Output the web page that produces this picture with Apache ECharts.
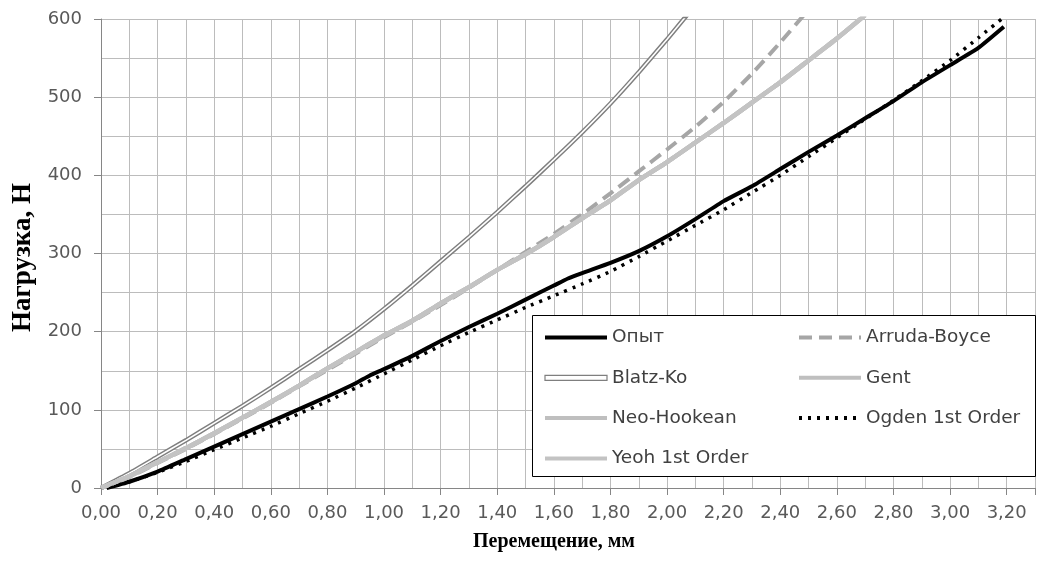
<!DOCTYPE html>
<html>
<head>
<meta charset="utf-8">
<script src="https://cdn.jsdelivr.net/npm/echarts@6/dist/echarts.min.js"></script>
<style>html,body{margin:0;padding:0;background:#fff}#c{width:1038px;height:572px}</style>
</head>
<body>
<div id="c"></div>
<script>
// ---- data (displacement mm, load N) ----
const opyt = [[0.02,0],[0.1,8],[0.2,21],[0.3,37],[0.4,53],[0.5,69],[0.6,85],[0.7,101],[0.8,117],[0.9,134],[0.95,144],[1.0,152],[1.1,169],[1.2,188],[1.3,206],[1.4,223],[1.5,241],[1.6,259],[1.65,268],[1.7,275],[1.8,288],[1.9,303],[2.0,322],[2.1,344],[2.2,367],[2.3,386],[2.4,408],[2.5,430],[2.6,451],[2.7,473],[2.8,495],[2.9,519],[3.0,541],[3.1,563],[3.19,590]];
const arruda = [[0,0],[0.1,14],[0.2,32],[0.3,50],[0.4,69],[0.5,89],[0.6,109],[0.7,130],[0.8,151],[0.9,172],[1.0,193],[1.1,213],[1.2,234],[1.3,256],[1.4,279],[1.5,302],[1.6,325],[1.7,350],[1.8,377],[1.9,405],[2.0,433],[2.1,462],[2.2,494],[2.3,530],[2.4,570],[2.5,612]];
const blatz = [[0,0],[0.1,19],[0.2,40],[0.3,61],[0.4,83],[0.5,105],[0.6,128],[0.7,152],[0.8,176],[0.9,201],[1.0,229],[1.1,259],[1.2,290],[1.3,321],[1.4,353],[1.5,386],[1.6,420],[1.7,455],[1.8,492],[1.9,532],[2.0,574],[2.1,618]];
const gent = [[0,0],[0.1,15],[0.2,33],[0.3,51],[0.4,70],[0.5,90],[0.6,110],[0.7,131],[0.8,153],[0.9,174],[1.0,195],[1.1,214],[1.2,236],[1.3,257],[1.4,279],[1.5,299],[1.6,321],[1.7,345],[1.8,368],[1.9,394],[2.0,417],[2.1,442],[2.2,467],[2.3,493],[2.4,519],[2.5,547],[2.6,575],[2.7,605]];
const neoHookean = [[0,0],[0.1,15],[0.2,33],[0.3,51],[0.4,70],[0.5,90],[0.6,110],[0.7,131],[0.8,153],[0.9,174],[1.0,195],[1.1,214],[1.2,236],[1.3,257],[1.4,279],[1.5,299],[1.6,321],[1.7,345],[1.8,368],[1.9,394],[2.0,417],[2.1,442],[2.2,467],[2.3,493],[2.4,519],[2.5,547],[2.6,575],[2.7,605]];
const ogden = [[0,0],[0.1,8],[0.2,20],[0.3,34],[0.4,49],[0.5,64],[0.6,79],[0.7,95],[0.8,111],[0.9,128],[1.0,146],[1.1,164],[1.2,182],[1.3,199],[1.4,215],[1.5,231],[1.6,246],[1.7,261],[1.8,277],[1.9,296],[2.0,316],[2.1,336],[2.2,356],[2.3,378],[2.4,400],[2.5,424],[2.6,448],[2.7,472],[2.8,496],[2.9,521],[3.0,547],[3.1,576],[3.2,605]];
const yeoh = [[0,0],[0.1,15],[0.2,33],[0.3,51],[0.4,70],[0.5,90],[0.6,110],[0.7,131],[0.8,153],[0.9,174],[1.0,195],[1.1,214],[1.2,236],[1.3,257],[1.4,279],[1.5,299],[1.6,321],[1.7,345],[1.8,368],[1.9,394],[2.0,417],[2.1,442],[2.2,467],[2.3,493],[2.4,519],[2.5,547],[2.6,575],[2.7,605]];
const xTitle = 'Перемещение, мм';
const yTitle = 'Нагрузка, Н';
const legendLeft = ['Опыт','Blatz-Ko','Neo-Hookean','Yeoh 1st Order'];
const legendRight = ['Arruda-Boyce','Gent','Ogden 1st Order'];

const chart = echarts.init(document.getElementById('c'), null, {renderer:'canvas'});
const lblFont = 'DejaVu Sans';
const gridColor = '#bcbcbc';
const axisColor = '#868686';
function line(name, data, color, width, type, z){
  return {name, type:'line', data, xAxisIndex:0, yAxisIndex:0, symbol:'none', showSymbol:false, smooth:0.15,
    lineStyle:{color, width, type: type||'solid', cap:'butt'}, itemStyle:{color}, z: z||2, silent:true, animation:false};
}
const legendCommon = {
  orient:'vertical', top:328, itemWidth:62, itemHeight:14, itemGap:21.3, padding:0, z:10,
  selectedMode:false, itemStyle:{opacity:0}, lineStyle:{width:4},
  textStyle:{fontFamily:lblFont, fontSize:18.5, color:'#404040', lineHeight:16}
};
const option = {
  animation:false,
  grid:{left:101, top:19, right:-2, bottom:84, containLabel:false},
  xAxis:[{
    type:'value', min:0, max:3.3, interval:0.1, position:'bottom',
    axisLine:{show:true, lineStyle:{color:axisColor, width:1}},
    axisTick:{show:false},
    splitLine:{show:true, lineStyle:{color:gridColor, width:1}},
    axisLabel:{margin:16, color:'#595959', fontSize:18, fontFamily:lblFont,
      formatter:v => (Math.round(v*10)%2===0 && Math.round(v*10)<=32) ? v.toFixed(2).replace('.', ',') : ''},
    name:xTitle, nameLocation:'middle', nameGap:44,
    nameTextStyle:{fontFamily:'Liberation Serif', fontWeight:'bold', fontSize:20, color:'#000', padding:[0,28,0,0]}
  },{
    type:'value', min:0, max:3.3, interval:0.2, position:'bottom',
    axisLine:{show:false}, axisLabel:{show:false}, splitLine:{show:false},
    axisTick:{show:true, length:7, lineStyle:{color:axisColor}}
  }],
  yAxis:[{
    type:'value', min:0, max:600, interval:100, position:'left',
    axisLine:{show:true, lineStyle:{color:axisColor, width:1}},
    axisTick:{show:true, length:7, lineStyle:{color:axisColor}},
    minorTick:{show:false, splitNumber:2},
    splitLine:{show:true, lineStyle:{color:gridColor, width:1}},
    minorSplitLine:{show:true, lineStyle:{color:gridColor, width:1}},
    axisLabel:{margin:19, color:'#595959', fontSize:18, fontFamily:lblFont},
    name:yTitle, nameLocation:'middle', nameGap:60, nameRotate:90,
    nameTextStyle:{fontFamily:'Liberation Serif', fontWeight:'bold', fontSize:27, color:'#000', padding:[0,8,0,0]}
  }],
  graphic:[{type:'rect', z:3, shape:{x:532.5, y:315.5, width:503, height:161}, style:{fill:'#fff', stroke:'#000', lineWidth:1}}],
  legend:[Object.assign({}, legendCommon, {
    left:543,
    data:[legendLeft[0], {name:legendLeft[1], icon:'path://M0,0H62V5H0Z', itemStyle:{opacity:1, color:'#fff', borderColor:'#7f7f7f', borderWidth:1.2}}, legendLeft[2], legendLeft[3]]
  }), Object.assign({}, legendCommon, {
    left:797,
    data:legendRight
  })],
  series:[
    line('Опыт', opyt, '#000', 4),
    line('Arruda-Boyce', arruda, '#a6a6a6', 4, [13,7]),
    line('Blatz-Ko', blatz, '#7f7f7f', 4.5),
    line('Blatz-Ko inner', blatz, '#ffffff', 1.6),
    line('Gent', gent, '#bfbfbf', 4.5),
    line('Neo-Hookean', neoHookean, '#bfbfbf', 4.5),
    line('Ogden 1st Order', ogden, '#000', 3.5, [3,6]),
    line('Yeoh 1st Order', yeoh, '#c3c3c3', 4.5)
  ]
};
chart.setOption(option);
</script>
</body>
</html>
